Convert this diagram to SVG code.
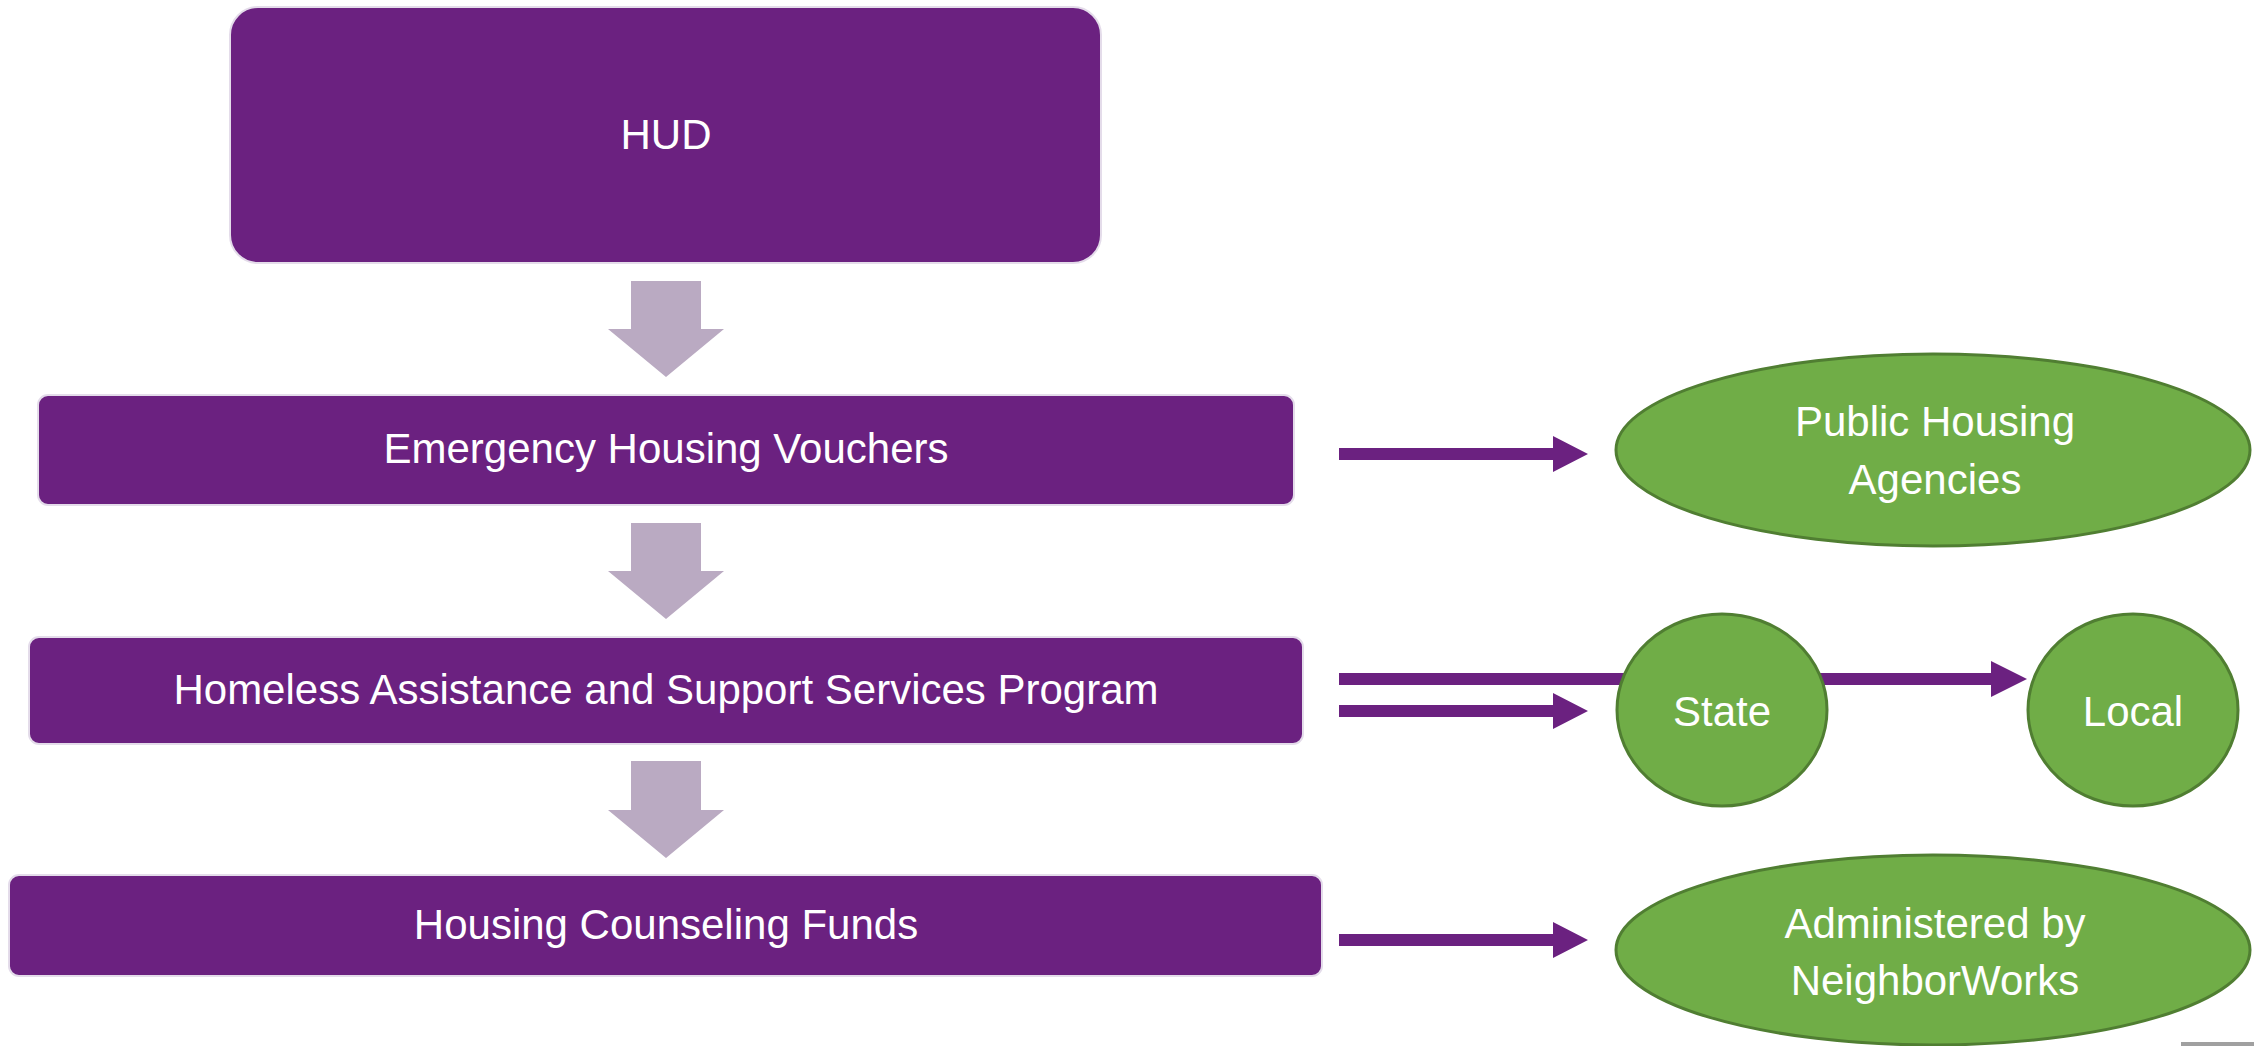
<svg xmlns="http://www.w3.org/2000/svg" width="2254" height="1046" viewBox="0 0 2254 1046">
<style>
.box{fill:#6B2180;stroke:#E4DCEA;stroke-width:2}
.ell{fill:#70AD47;stroke:#507E32;stroke-width:3}
.blk{fill:#BAAAC2}
.con{fill:#6B2180}
.t{font-family:"Liberation Sans",Arial,sans-serif;font-size:42px;fill:#FFFFFF;text-anchor:middle}
</style>
<rect width="2254" height="1046" fill="#FFFFFF"/>
<g id="connectors">
<polygon class="blk" points="631,281 701,281 701,329 724,329 666,377 608,329 631,329"/>
<polygon class="blk" points="631,523 701,523 701,571 724,571 666,619 608,571 631,571"/>
<polygon class="blk" points="631,761 701,761 701,810 724,810 666,858 608,810 631,810"/>
<polygon class="con" points="1339,448 1553,448 1553,436 1588,454 1553,472 1553,460 1339,460"/>
<polygon class="con" points="1339,673 1991,673 1991,661 2027,679 1991,697 1991,685 1339,685"/>
<polygon class="con" points="1339,705 1553,705 1553,693 1588,711 1553,729 1553,717 1339,717"/>
<polygon class="con" points="1339,934 1553,934 1553,922 1588,940 1553,958 1553,946 1339,946"/>
</g>
<g id="hud">
<rect class="box" x="230" y="7" width="871" height="256" rx="28" ry="28"/>
<text class="t" x="666" y="149">HUD</text>
</g>
<g id="ehv">
<rect class="box" x="38" y="395" width="1256" height="110" rx="10" ry="10"/>
<text class="t" x="666" y="463">Emergency Housing Vouchers</text>
</g>
<g id="homeless">
<rect class="box" x="29" y="637" width="1274" height="107" rx="10" ry="10"/>
<text class="t" x="666" y="704">Homeless Assistance and Support Services Program</text>
</g>
<g id="counseling">
<rect class="box" x="9" y="875" width="1313" height="101" rx="10" ry="10"/>
<text class="t" x="666" y="939">Housing Counseling Funds</text>
</g>
<g id="pha">
<ellipse class="ell" cx="1933" cy="450" rx="317" ry="96"/>
<text class="t" x="1935" y="436">Public Housing</text>
<text class="t" x="1935" y="494">Agencies</text>
</g>
<g id="state">
<ellipse class="ell" cx="1722" cy="710" rx="105" ry="96"/>
<text class="t" x="1722" y="726">State</text>
</g>
<g id="local">
<ellipse class="ell" cx="2133" cy="710" rx="105" ry="96"/>
<text class="t" x="2133" y="726">Local</text>
</g>
<g id="neighborworks">
<ellipse class="ell" cx="1933" cy="950" rx="317" ry="95"/>
<text class="t" x="1935" y="938">Administered by</text>
<text class="t" x="1935" y="995">NeighborWorks</text>
</g>
<rect x="2181" y="1042" width="73" height="4" fill="#A0A0A0"/>
</svg>
